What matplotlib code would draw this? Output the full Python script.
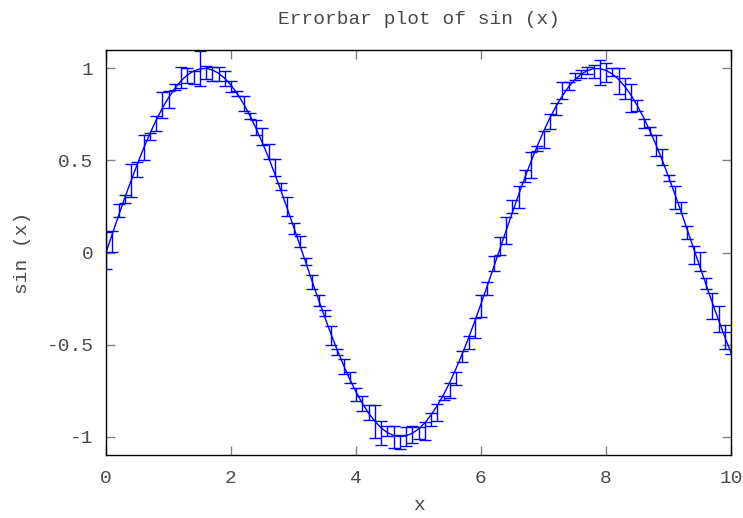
import numpy as np
import matplotlib
matplotlib.use("Agg")
import matplotlib.pyplot as plt

# sample positions 0.0 .. 10.0, step 0.1
x = np.linspace(0, 10, 101)

# smooth curve sin(x) at the sample positions
curve = [0.000, 0.100, 0.199, 0.296, 0.389, 0.479, 0.565, 0.644, 0.717, 0.783,
         0.841, 0.891, 0.932, 0.964, 0.985, 0.997, 1.000, 0.992, 0.974, 0.946,
         0.909, 0.863, 0.808, 0.746, 0.675, 0.598, 0.516, 0.427, 0.335, 0.239,
         0.141, 0.042, -0.058, -0.158, -0.256, -0.351, -0.443, -0.530, -0.612, -0.688,
         -0.757, -0.818, -0.872, -0.916, -0.952, -0.978, -0.994, -1.000, -0.996, -0.982,
         -0.959, -0.926, -0.883, -0.832, -0.773, -0.706, -0.631, -0.551, -0.465, -0.374,
         -0.279, -0.182, -0.083, 0.017, 0.117, 0.215, 0.312, 0.405, 0.494, 0.578,
         0.657, 0.729, 0.794, 0.850, 0.899, 0.938, 0.968, 0.988, 0.999, 0.999,
         0.989, 0.970, 0.941, 0.902, 0.855, 0.798, 0.734, 0.663, 0.585, 0.501,
         0.412, 0.319, 0.223, 0.124, 0.024, -0.075, -0.174, -0.271, -0.366, -0.458,
         -0.544]

# measured values (bar centres)
y_meas = [0.01, 0.06, 0.23, 0.29, 0.39, 0.45, 0.57, 0.63, 0.70, 0.80,
          0.83, 0.90, 0.95, 0.96, 0.95, 1.00, 0.98, 0.97, 0.97, 0.945,
          0.90, 0.865, 0.81, 0.74, 0.68, 0.63, 0.55, 0.46, 0.36, 0.25,
          0.13, 0.06, -0.05, -0.16, -0.26, -0.33, -0.45, -0.54, -0.62, -0.68,
          -0.77, -0.82, -0.87, -0.92, -0.98, -0.97, -1.00, -1.03, -1.00, -0.99,
          -0.98, -0.97, -0.905, -0.87, -0.79, -0.75, -0.685, -0.565, -0.49, -0.41,
          -0.29, -0.195, -0.06, 0.035, 0.12, 0.25, 0.30, 0.415, 0.477, 0.565,
          0.614, 0.71, 0.78, 0.88, 0.905, 0.955, 0.97, 0.99, 0.985, 0.98,
          0.98, 0.98, 0.93, 0.89, 0.84, 0.80, 0.70, 0.66, 0.58, 0.517,
          0.405, 0.297, 0.245, 0.108, -0.013, -0.047, -0.166, -0.29, -0.36, -0.46,
          -0.49]

# half length of each error bar
y_err = [0.10, 0.056, 0.035, 0.02, 0.09, 0.04, 0.07, 0.02, 0.04, 0.07,
         0.045, 0.015, 0.055, 0.04, 0.035, 0.095, 0.035, 0.04, 0.04, 0.04,
         0.03, 0.015, 0.04, 0.016, 0.04, 0.045, 0.04, 0.047, 0.02, 0.05,
         0.03, 0.03, 0.02, 0.04, 0.03, 0.015, 0.05, 0.015, 0.04, 0.03,
         0.035, 0.04, 0.04, 0.09, 0.063, 0.027, 0.06, 0.036, 0.05, 0.045,
         0.033, 0.047, 0.035, 0.048, 0.01, 0.043, 0.036, 0.032, 0.034, 0.055,
         0.06, 0.037, 0.042, 0.048, 0.074, 0.035, 0.06, 0.033, 0.07, 0.014,
         0.045, 0.04, 0.034, 0.045, 0.022, 0.018, 0.02, 0.02, 0.036, 0.068,
         0.052, 0.02, 0.07, 0.056, 0.077, 0.03, 0.025, 0.02, 0.057, 0.043,
         0.014, 0.063, 0.029, 0.035, 0.047, 0.051, 0.03, 0.07, 0.07, 0.065,
         0.06]

xticks = [0, 2, 4, 6, 8, 10]
yticks = [-1, -0.5, 0, 0.5, 1]
ytick_labels = ["-1", "-0.5", "0", "0.5", "1"]

plt.rcParams['font.family'] = ['Liberation Mono', 'DejaVu Sans Mono']
txt = '#4a4a4a'

fig = plt.figure(figsize=(7.43, 5.18), dpi=100)
ax = fig.add_axes([106/743, 1-455/518, 625/743, 405/518])

ax.errorbar(x, y_meas, yerr=y_err, fmt='none', ecolor='#0000ff',
            elinewidth=1.0, capsize=4.3, capthick=1.0)
ax.plot(x, curve, color='#0000ff', lw=1.0)

ax.set_xlim(0, 10)
ax.set_ylim(-1.1, 1.1)
ax.set_xticks(xticks)
ax.set_xticklabels([str(t) for t in xticks])
ax.set_yticks(yticks)
ax.set_yticklabels(ytick_labels)

ax.tick_params(direction='in', length=6.5, width=1, color='#808080',
               top=True, right=True, labelsize=14, labelcolor=txt)
ax.tick_params(axis='x', pad=11)
ax.tick_params(axis='y', pad=9)
for s in ax.spines.values():
    s.set_color('black')
    s.set_linewidth(1.0)

ax.set_title("Errorbar plot of sin (x)", fontsize=14, color=txt, pad=19)
ax.set_xlabel("x", fontsize=14, color=txt, labelpad=7)
ax.set_ylabel("sin (x)", fontsize=14, color=txt, labelpad=11)

fig.savefig('out.png', dpi=100)
